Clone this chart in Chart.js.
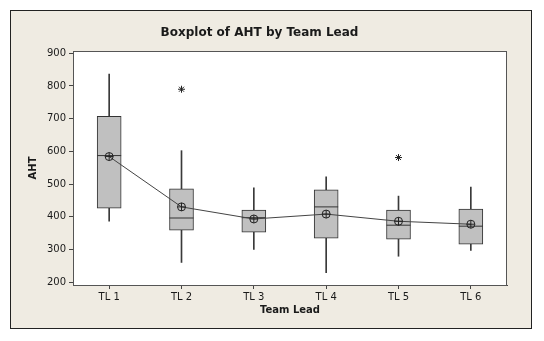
<!DOCTYPE html>
<html>
<head>
<meta charset="utf-8">
<script src="https://cdn.jsdelivr.net/npm/chart.js@4.4.1/dist/chart.umd.min.js"></script>
<style>
  body { margin: 0; background: #fff; }
  #frame {
    position: absolute; left: 10px; top: 10px;
    width: 520px; height: 317px;
    border: 1px solid #222; background: #EFEBE2;
  }
  #chart { position: absolute; left: 0; top: 0; }
</style>
</head>
<body>
<div id="frame"></div>
<canvas id="chart" width="544" height="341"></canvas>
<script>
const teamLeads = ['TL 1', 'TL 2', 'TL 3', 'TL 4', 'TL 5', 'TL 6'];
const whiskerLow = [386, 260, 300, 229, 279, 297];
const whiskerHigh = [836, 602, 488, 522, 463, 491];
const q1 = [426, 359, 353, 334, 331, 316];
const q3 = [707, 485, 420, 482, 420, 423];
const medians = [587, 396, 397, 430, 374, 371];
const means = [584, 430, 393, 408, 386, 377];
const outlierLeads = ['TL 2', 'TL 5'];
const outlierValues = [790, 581];
const yTicks = [200, 300, 400, 500, 600, 700, 800, 900];

const lineColor = '#333';
const textColor = '#1a1a1a';
const font = 'DejaVu Sans';

// white plot area with a full border
const plotFrame = {
    id: 'plotFrame',
    beforeDatasetsDraw(chart) {
        const { ctx, chartArea: a } = chart;
        ctx.save();
        ctx.fillStyle = '#fff';
        ctx.fillRect(a.left, a.top, a.right - a.left, a.bottom - a.top);
        ctx.restore();
    },
    afterDraw(chart) {
        const { ctx, chartArea: a } = chart;
        ctx.save();
        ctx.strokeStyle = '#555';
        ctx.lineWidth = 1;
        ctx.strokeRect(Math.round(a.left) + 0.5, Math.round(a.top) + 0.5,
            Math.round(a.right - a.left) - 1, Math.round(a.bottom - a.top));
        ctx.restore();
    }
};

const axisGrid = { display: true, offset: false, drawOnChartArea: false, drawTicks: true, tickLength: 4, color: '#444' };

new Chart(document.getElementById('chart'), {
    type: 'bar',
    data: {
        labels: teamLeads,
        datasets: [
            {
                label: 'Whisker',
                data: whiskerLow.map((v, i) => [v, whiskerHigh[i]]),
                backgroundColor: '#3a3a3a',
                borderWidth: 0,
                barThickness: 1,
                grouped: false,
                order: 6
            },
            {
                label: 'Box',
                data: q1.map((v, i) => [v, q3[i]]),
                backgroundColor: '#C0C0C0',
                borderColor: lineColor,
                borderWidth: 1,
                borderSkipped: false,
                barThickness: 24,
                grouped: false,
                order: 5
            },
            {
                type: 'line',
                label: 'Median',
                data: medians,
                showLine: false,
                pointStyle: 'line',
                pointRadius: 12,
                pointBorderWidth: 1,
                pointBorderColor: lineColor,
                order: 4
            },
            {
                type: 'line',
                label: 'Mean',
                data: means,
                borderColor: '#444',
                borderWidth: 1,
                tension: 0,
                pointStyle: 'circle',
                pointRadius: 4,
                pointBorderWidth: 1,
                pointBackgroundColor: 'rgba(0,0,0,0)',
                pointBorderColor: '#222',
                order: 3
            },
            {
                type: 'line',
                label: 'Mean cross',
                data: means,
                showLine: false,
                pointStyle: 'cross',
                pointRadius: 4,
                pointBorderWidth: 1,
                pointBorderColor: '#222',
                order: 2
            },
            {
                type: 'line',
                label: 'Outlier',
                data: outlierLeads.map((l, i) => ({ x: l, y: outlierValues[i] })),
                showLine: false,
                pointStyle: 'star',
                pointRadius: 3.5,
                pointBorderWidth: 1,
                pointBorderColor: '#222',
                order: 1
            }
        ]
    },
    options: {
        responsive: false,
        animation: false,
        events: [],
        layout: { padding: { left: 12, right: 37, top: 0, bottom: 14 } },
        plugins: {
            legend: { display: false },
            tooltip: { enabled: false },
            title: {
                display: true,
                text: 'Boxplot of AHT by Team Lead',
                color: textColor,
                font: { family: font, size: 12, weight: 'bold', lineHeight: 1.2 },
                padding: { top: 26, bottom: 10.6 }
            }
        },
        scales: {
            x: {
                offset: true,
                grid: axisGrid,
                border: { display: true, color: '#444' },
                ticks: { color: textColor, font: { family: font, size: 10 }, padding: 2, maxRotation: 0 },
                title: {
                    display: true, text: 'Team Lead', color: textColor,
                    font: { family: font, size: 10, weight: 'bold' },
                    padding: { top: 0, bottom: 11 }
                },
                afterFit: s => { s.height = 42; }
            },
            y: {
                min: 191,
                max: 907,
                afterBuildTicks: s => { s.ticks = yTicks.map(v => ({ value: v })); },
                grid: axisGrid,
                border: { display: true, color: '#444' },
                ticks: { color: textColor, font: { family: font, size: 10 }, padding: 3 },
                title: {
                    display: true, text: 'AHT', color: textColor,
                    font: { family: font, size: 10, weight: 'bold' },
                    padding: { top: 15, bottom: 0 }
                },
                afterFit: s => { s.width = 61; }
            }
        }
    },
    plugins: [plotFrame]
});
</script>
</body>
</html>
